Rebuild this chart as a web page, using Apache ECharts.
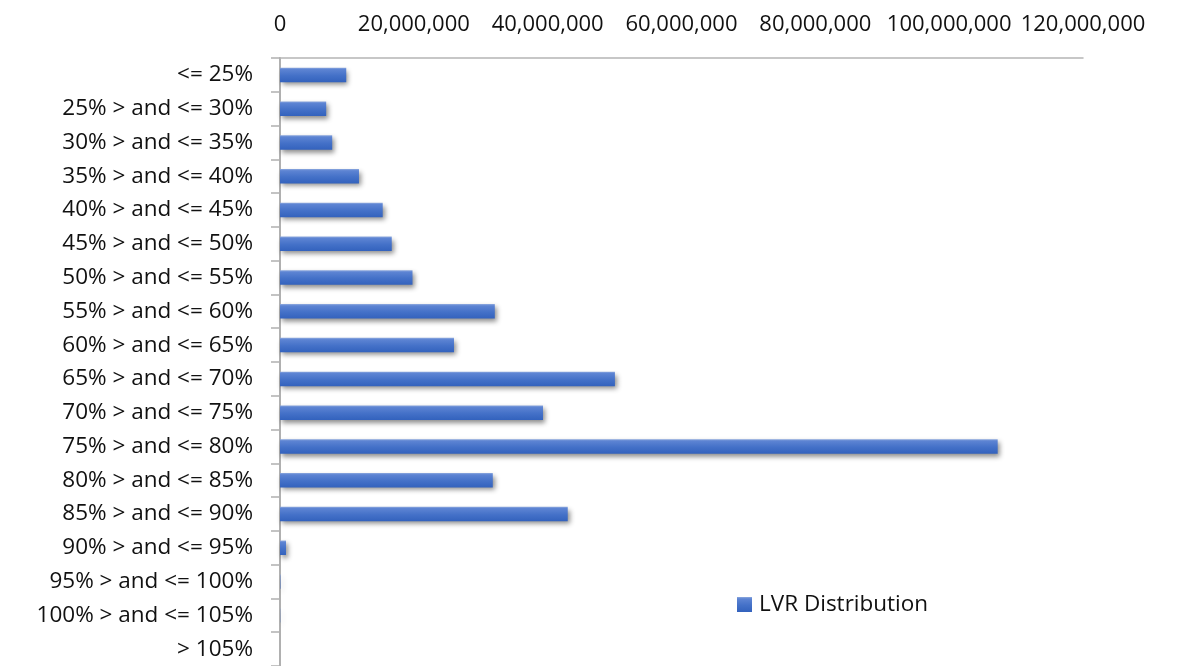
<!DOCTYPE html>
<html>
<head>
<meta charset="utf-8">
<script src="https://cdn.jsdelivr.net/npm/echarts@6/dist/echarts.min.js"></script>
<style>
  html, body { margin: 0; padding: 0; background: #ffffff; }
  #chart { width: 1178px; height: 666px; }
</style>
</head>
<body>
<div id="chart"></div>
<script>
const categories = [
  '<= 25%', '25% > and <= 30%', '30% > and <= 35%', '35% > and <= 40%',
  '40% > and <= 45%', '45% > and <= 50%', '50% > and <= 55%', '55% > and <= 60%',
  '60% > and <= 65%', '65% > and <= 70%', '70% > and <= 75%', '75% > and <= 80%',
  '80% > and <= 85%', '85% > and <= 90%', '90% > and <= 95%', '95% > and <= 100%',
  '100% > and <= 105%', '> 105%'
];
const lvrValues = [
  9900000, 6900000, 7800000, 11800000,
  15350000, 16700000, 19800000, 32100000,
  26000000, 50050000, 39300000, 107250000,
  31800000, 43000000, 900000, 60000,
  30000, 0
];
const seriesName = 'LVR Distribution';
const xMin = 0, xMax = 120000000, xInterval = 20000000;

const FONT = '"Open Sans", "Lato", sans-serif';
const chart = echarts.init(document.getElementById('chart'), null, { renderer: 'canvas' });

const barGradient = new echarts.graphic.LinearGradient(0, 0, 0, 1, [
  { offset: 0, color: '#8ea9de' },
  { offset: 0.12, color: '#5d84d3' },
  { offset: 0.55, color: '#4471c8' },
  { offset: 1, color: '#3362bd' }
]);

chart.setOption({
  animation: false,
  backgroundColor: '#ffffff',
  grid: { left: 280, top: 58, width: 803, height: 612, containLabel: false },
  legend: {
    data: [seriesName],
    left: 732,
    top: 588,
    icon: 'rect',
    itemWidth: 15,
    itemHeight: 15,
    textStyle: { fontFamily: FONT, fontSize: 22.5, color: '#111', padding: [0, 0, 0, 2] }
  },
  xAxis: {
    type: 'value',
    position: 'top',
    min: xMin,
    max: xMax,
    interval: xInterval,
    axisLine: { show: true, lineStyle: { color: '#b5b5b5', width: 1.5 } },
    axisTick: { show: false },
    splitLine: { show: false },
    axisLabel: {
      fontFamily: FONT, fontSize: 22, color: '#111', margin: 22,
      formatter: v => v.toLocaleString('en-US')
    }
  },
  yAxis: {
    type: 'category',
    inverse: true,
    data: categories,
    axisLine: { show: true, lineStyle: { color: '#b0b0b0', width: 2 } },
    axisTick: { show: true, inside: false, length: 9, lineStyle: { color: '#b0b0b0', width: 1.5 } },
    axisLabel: { fontFamily: FONT, fontSize: 22.5, color: '#111', margin: 27, padding: [4, 0, 0, 0] }
  },
  series: [{
    name: seriesName,
    type: 'bar',
    data: lvrValues,
    barWidth: 14.5,
    itemStyle: {
      color: barGradient,
      shadowColor: 'rgba(0,0,0,0.45)',
      shadowBlur: 5,
      shadowOffsetX: 2,
      shadowOffsetY: 3
    }
  }]
});
</script>
</body>
</html>
